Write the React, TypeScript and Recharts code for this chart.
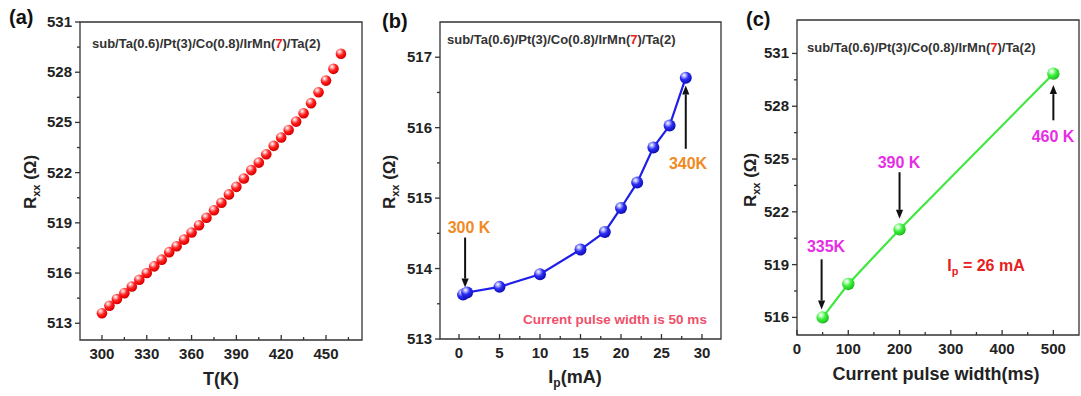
import React from "react";
import { LineChart, Line, XAxis, YAxis, ReferenceArea, ReferenceLine } from "recharts";

const FONT = "'Liberation Sans', Arial, Helvetica, sans-serif";
const AXIS = "#333";

// (a) R_xx versus temperature
const tempK = [
  300, 305, 310, 315, 320, 325, 330, 335, 340, 345, 350, 355, 360, 365, 370, 375, 380,
  385, 390, 395, 400, 405, 410, 415, 420, 425, 430, 435, 440, 445, 450, 455, 460,
];
const rxxTemp = [
  513.6, 514.05, 514.45, 514.8, 515.2, 515.6, 516.0, 516.4, 516.8, 517.25, 517.6, 518.0,
  518.42, 518.86, 519.3, 519.75, 520.2, 520.7, 521.15, 521.65, 522.15, 522.6, 523.1,
  523.6, 524.1, 524.55, 525.05, 525.55, 526.15, 526.8, 527.5, 528.2, 529.1,
];
const tempMajor = [300, 330, 360, 390, 420, 450];
const tempMinor = [315, 345, 375, 405, 435, 465];
const rTempMajor = [513, 516, 519, 522, 525, 528, 531];
const rTempMinor = [514.5, 517.5, 520.5, 523.5, 526.5, 529.5];

// (b) R_xx versus pulse current
const pulseCurrent = [0.5, 1, 5, 10, 15, 18, 20, 22, 24, 26, 28];
const rxxCurrent = [513.63, 513.66, 513.74, 513.92, 514.27, 514.52, 514.86, 515.22, 515.72, 516.03, 516.71];
const curMajor = [0, 5, 10, 15, 20, 25, 30];
const curMinor = [2.5, 7.5, 12.5, 17.5, 22.5, 27.5];
const rCurMajor = [513, 514, 515, 516, 517];
const rCurMinor = [513.5, 514.5, 515.5, 516.5];

// (c) R_xx versus pulse width
const pulseWidth = [50, 100, 200, 500];
const rxxWidth = [516.0, 517.9, 521.0, 529.85];
const widthMajor = [0, 100, 200, 300, 400, 500];
const widthMinor = [50, 150, 250, 350, 450];
const rWidthMajor = [516, 519, 522, 525, 528, 531];
const rWidthMinor = [517.5, 520.5, 523.5, 526.5, 529.5];

const dataA = tempK.map((t, i) => ({ x: t, r: rxxTemp[i] }));
const dataB = pulseCurrent.map((c, i) => ({ x: c, r: rxxCurrent[i] }));
const dataC = pulseWidth.map((w, i) => ({ x: w, r: rxxWidth[i] }));

const makeXTick = (majors: number[]) => (p: any) => {
  const { x, y, payload } = p;
  const major = majors.includes(payload.value);
  return (
    <g>
      <line x1={x} x2={x} y1={y} y2={y - (major ? 5 : 3)} stroke={AXIS} strokeWidth={1.3} />
      {major && (
        <text x={x} y={y + 19} textAnchor="middle" fontFamily={FONT} fontWeight="bold" fontSize={15} fill="#222">
          {payload.value}
        </text>
      )}
    </g>
  );
};

const makeYTick = (majors: number[]) => (p: any) => {
  const { x, y, payload } = p;
  const major = majors.includes(payload.value);
  return (
    <g>
      <line x1={x} x2={x - (major ? 5 : 3)} y1={y} y2={y} stroke={AXIS} strokeWidth={1.3} />
      {major && (
        <text x={x - 8} y={y + 5} textAnchor="end" fontFamily={FONT} fontWeight="bold" fontSize={15} fill="#222">
          {payload.value}
        </text>
      )}
    </g>
  );
};

const sphere = (gid: string, r: number) => (p: any) => {
  if (p.cx == null || p.cy == null) return <g key={p.index} />;
  return <circle key={p.index} cx={p.cx} cy={p.cy} r={r} fill={`url(#${gid})`} />;
};

const Arrow = (p: any) => {
  const { x1, y1, x2, y2 } = p;
  const ang = Math.atan2(y2 - y1, x2 - x1);
  const len = 9;
  const half = 3.6;
  const bx = x2 - len * Math.cos(ang);
  const by = y2 - len * Math.sin(ang);
  const px = -Math.sin(ang) * half;
  const py = Math.cos(ang) * half;
  return (
    <g>
      <line x1={x1} y1={y1} x2={bx} y2={by} stroke="#111" strokeWidth={2} />
      <polygon points={`${x2},${y2} ${bx + px},${by + py} ${bx - px},${by - py}`} fill="#111" />
    </g>
  );
};

type Seg = [{ x: number; y: number }, { x: number; y: number }];
const arrowsB: Seg[] = [
  [{ x: 0.75, y: 514.44 }, { x: 0.75, y: 513.73 }],
  [{ x: 28, y: 515.7 }, { x: 28, y: 516.6 }],
];
const arrowsC: Seg[] = [
  [{ x: 48, y: 519.3 }, { x: 48, y: 516.45 }],
  [{ x: 200, y: 524.25 }, { x: 200, y: 521.6 }],
  [{ x: 500, y: 527.2 }, { x: 500, y: 529.2 }],
];

const Gradient = ({ id, c1, c2, c3, c4 }: { id: string; c1: string; c2: string; c3: string; c4: string }) => (
  <radialGradient id={id} cx="0.38" cy="0.32" r="0.72" fx="0.36" fy="0.3">
    <stop offset="0%" stopColor="#ffffff" />
    <stop offset="18%" stopColor={c1} />
    <stop offset="50%" stopColor={c2} />
    <stop offset="85%" stopColor={c3} />
    <stop offset="100%" stopColor={c4} />
  </radialGradient>
);

const Composition = ({ x, y }: { x: number; y: number }) => (
  <text x={x} y={y} fontFamily={FONT} fontWeight="bold" fontSize={13} fill="#333">
    sub/Ta(0.6)/Pt(3)/Co(0.8)/IrMn(<tspan fill="#e82020">7</tspan>)/Ta(2)
  </text>
);

const RxxTitle = ({ cx, cy }: { cx: number; cy: number }) => (
  <text
    x={cx}
    y={cy}
    transform={`rotate(-90 ${cx} ${cy})`}
    textAnchor="middle"
    fontFamily={FONT}
    fontWeight="bold"
    fontSize={17}
    fill="#222"
  >
    R<tspan fontSize={11} dy={4}>xx</tspan>
    <tspan dy={-4}> (Ω)</tspan>
  </text>
);

export default function App() {
  return (
    <div style={{ position: "absolute", left: 0, top: 0, width: 1081, height: 396, background: "#fff", overflow: "hidden" }}>
      <svg width={0} height={0} style={{ position: "absolute" }}>
        <defs>
          <Gradient id="ballRed" c1="#ffb4b4" c2="#ff2222" c3="#e80000" c4="#b00000" />
          <Gradient id="ballBlue" c1="#b4b8ff" c2="#2c2cf2" c3="#1414c8" c4="#08088e" />
          <Gradient id="ballGreen" c1="#c4ffc4" c2="#3cee3c" c3="#22cc22" c4="#12961a" />
        </defs>
      </svg>

      {/* (a) temperature dependence */}
      <div style={{ position: "absolute", left: 0, top: 0 }}>
        <LineChart width={370} height={396} data={dataA} margin={{ top: 22, right: 8, left: 0, bottom: 0 }}>
          <XAxis
            type="number"
            dataKey="x"
            domain={[285.3, 474.1]}
            ticks={[...tempMajor, ...tempMinor]}
            height={56}
            axisLine={false}
            tickLine={false}
            tickSize={0}
            tickMargin={0}
            tick={makeXTick(tempMajor)}
            interval={0}
          />
          <YAxis
            type="number"
            domain={[512, 531]}
            ticks={[...rTempMajor, ...rTempMinor]}
            width={80}
            axisLine={false}
            tickLine={false}
            tickSize={0}
            tickMargin={0}
            tick={makeYTick(rTempMajor)}
            interval={0}
          />
          <ReferenceArea x1={285.3} x2={474.1} y1={512} y2={531} fill="none" stroke={AXIS} strokeWidth={1.3} ifOverflow="visible" />
          <Line dataKey="r" stroke="none" dot={sphere("ballRed", 5.3)} isAnimationActive={false} />
        </LineChart>
      </div>

      {/* (b) pulse current dependence */}
      <div style={{ position: "absolute", left: 360, top: 0 }}>
        <LineChart width={370} height={396} data={dataB} margin={{ top: 22, right: 9, left: 0, bottom: 0 }}>
          <XAxis
            type="number"
            dataKey="x"
            domain={[-2.35, 32.35]}
            ticks={[...curMajor, ...curMinor]}
            height={57}
            axisLine={false}
            tickLine={false}
            tickSize={0}
            tickMargin={0}
            tick={makeXTick(curMajor)}
            interval={0}
          />
          <YAxis
            type="number"
            domain={[513, 517.5]}
            ticks={[...rCurMajor, ...rCurMinor]}
            width={80}
            axisLine={false}
            tickLine={false}
            tickSize={0}
            tickMargin={0}
            tick={makeYTick(rCurMajor)}
            interval={0}
          />
          <ReferenceArea x1={-2.35} x2={32.35} y1={513} y2={517.5} fill="none" stroke={AXIS} strokeWidth={1.3} ifOverflow="visible" />
          <Line dataKey="r" stroke="#1e1ee8" strokeWidth={2.2} dot={sphere("ballBlue", 6)} isAnimationActive={false} />
          {arrowsB.map((s, i) => (
            <ReferenceLine key={i} segment={s} shape={Arrow} ifOverflow="visible" />
          ))}
        </LineChart>
      </div>

      {/* (c) pulse width dependence */}
      <div style={{ position: "absolute", left: 720, top: 0 }}>
        <LineChart width={361} height={396} data={dataC} margin={{ top: 20, right: 2, left: 0, bottom: 0 }}>
          <XAxis
            type="number"
            dataKey="x"
            domain={[0, 550]}
            ticks={[...widthMajor, ...widthMinor]}
            height={61}
            axisLine={false}
            tickLine={false}
            tickSize={0}
            tickMargin={0}
            tick={makeXTick(widthMajor)}
            interval={0}
          />
          <YAxis
            type="number"
            domain={[515, 532.9]}
            ticks={[...rWidthMajor, ...rWidthMinor]}
            width={77}
            axisLine={false}
            tickLine={false}
            tickSize={0}
            tickMargin={0}
            tick={makeYTick(rWidthMajor)}
            interval={0}
          />
          <ReferenceArea x1={0} x2={550} y1={515} y2={532.9} fill="none" stroke={AXIS} strokeWidth={1.3} ifOverflow="visible" />
          <Line dataKey="r" stroke="#3ee83e" strokeWidth={2.2} dot={sphere("ballGreen", 6.2)} isAnimationActive={false} />
          {arrowsC.map((s, i) => (
            <ReferenceLine key={i} segment={s} shape={Arrow} ifOverflow="visible" />
          ))}
        </LineChart>
      </div>

      {/* titles and annotations */}
      <svg width={1081} height={396} style={{ position: "absolute", left: 0, top: 0, pointerEvents: "none" }}>
        <g fontFamily={FONT} fontWeight="bold">
          <text x={9} y={24} fontSize={20} fill="#111">(a)</text>
          <text x={382} y={28} fontSize={20} fill="#111">(b)</text>
          <text x={746} y={26} fontSize={20} fill="#111">(c)</text>

          <Composition x={92} y={48} />
          <Composition x={447} y={44} />
          <Composition x={807} y={52} />

          <RxxTitle cx={36} cy={182} />
          <RxxTitle cx={395} cy={182} />
          <RxxTitle cx={756} cy={180} />

          <text x={221} y={385} textAnchor="middle" fontSize={18} fill="#222">T(K)</text>
          <text x={575} y={383} textAnchor="middle" fontSize={18} fill="#222">
            I<tspan fontSize={12} dy={4}>p</tspan>
            <tspan dy={-4}>(mA)</tspan>
          </text>
          <text x={936} y={380} textAnchor="middle" fontSize={18} fill="#222">Current pulse width(ms)</text>

          <text x={469} y={233} textAnchor="middle" fontSize={16} fill="#f08a24">300 K</text>
          <text x={688} y={169} textAnchor="middle" fontSize={16} fill="#f08a24">340K</text>
          <text x={615} y={324} textAnchor="middle" fontSize={13.5} fill="#f0506a">Current pulse width is 50 ms</text>

          <text x={826} y={252} textAnchor="middle" fontSize={16} fill="#e62ee6">335K</text>
          <text x={899} y={168} textAnchor="middle" fontSize={16} fill="#e62ee6">390 K</text>
          <text x={1053} y={142} textAnchor="middle" fontSize={16} fill="#e62ee6">460 K</text>
          <text x={986} y={271} textAnchor="middle" fontSize={16} fill="#e62020">
            I<tspan fontSize={11} dy={4}>p</tspan>
            <tspan dy={-4}> = 26 mA</tspan>
          </text>
        </g>
      </svg>
    </div>
  );
}
